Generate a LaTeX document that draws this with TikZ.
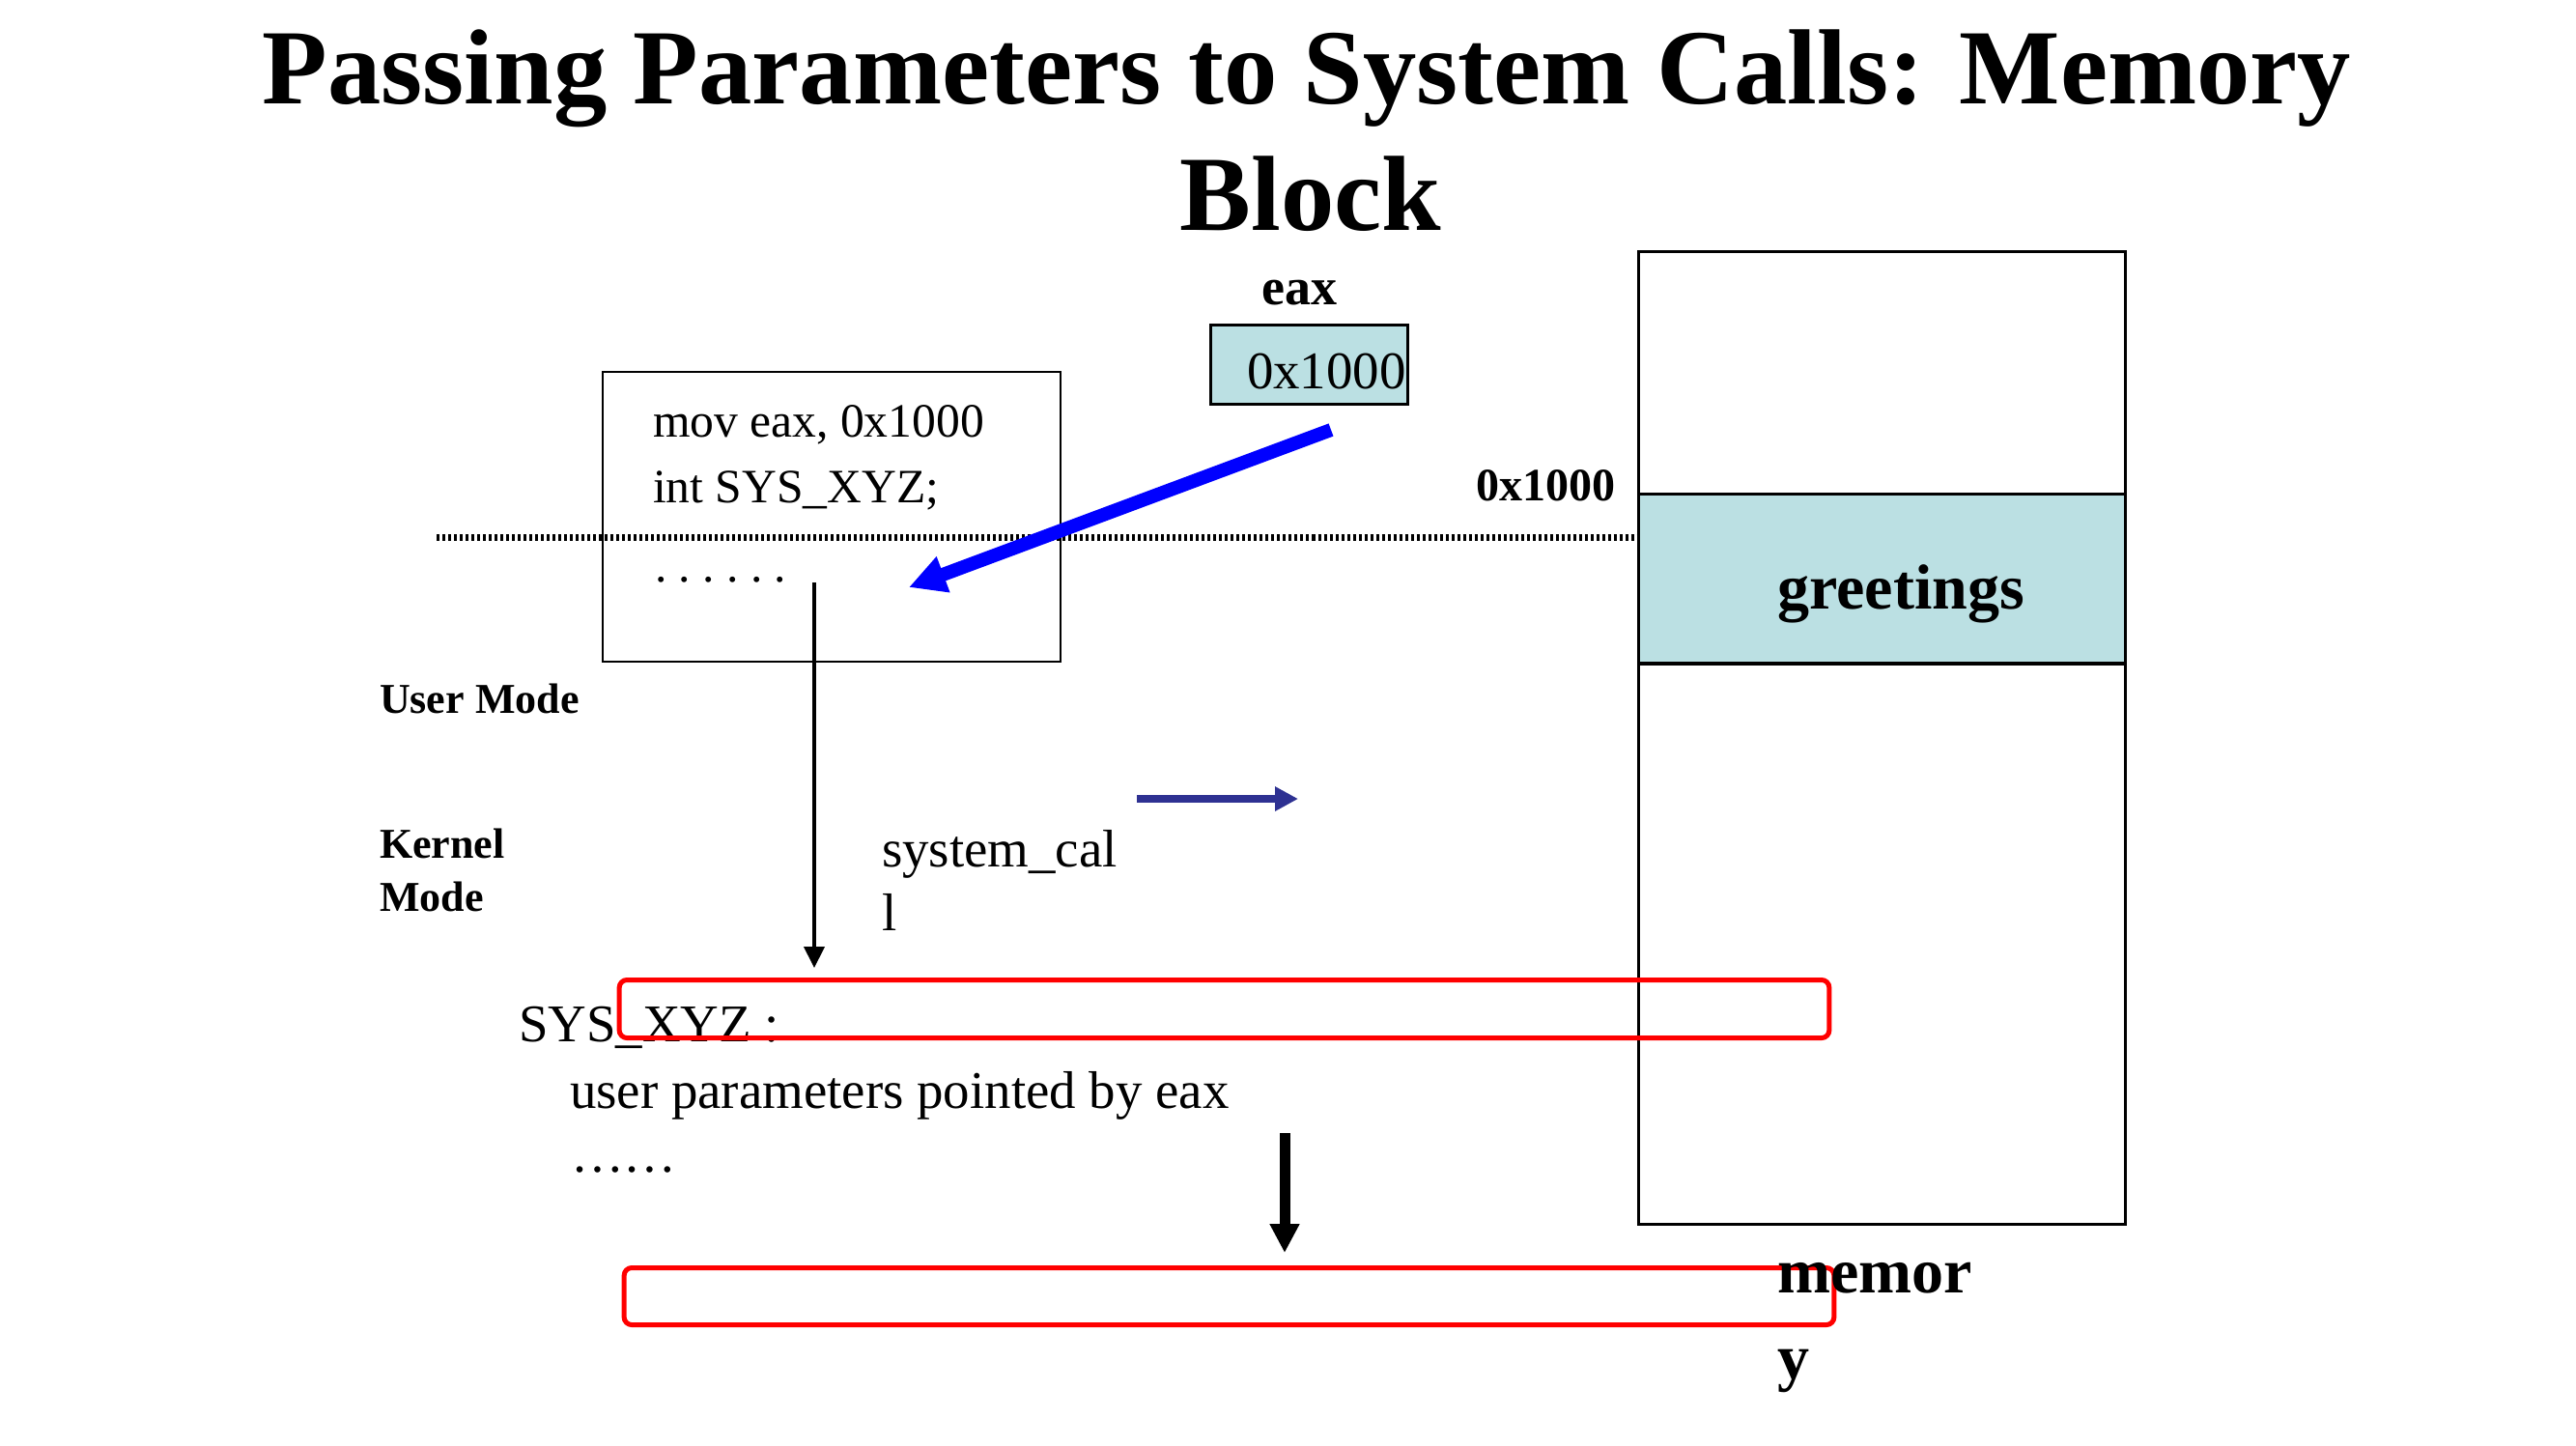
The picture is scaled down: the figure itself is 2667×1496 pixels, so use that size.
\documentclass[tikz,border=0pt]{standalone}
\usepackage{fontspec}
\setmainfont{Liberation Serif}
\usetikzlibrary{arrows.meta}
\definecolor{lblue}{HTML}{BBE0E3}
\definecolor{navyarrow}{HTML}{2E3192}
\begin{document}
\begin{tikzpicture}[x=0.01cm,y=-0.01cm,
  txt/.style={inner sep=0pt, outer sep=0pt, anchor=base west},
  ctxt/.style={inner sep=0pt, outer sep=0pt, anchor=base},
  boxline/.style={draw=black, line width=0.03cm, inner sep=0pt, outer sep=0pt},
  redbox/.style={draw=red, line width=0.05cm, rounded corners=0.08cm, inner sep=0pt, minimum width=12.52cm},
  titlefont/.style={font=\fontsize{31.45}{37.3}\selectfont\bfseries},
  codefont/.style={font=\fontsize{14.1}{19.3}\selectfont\frenchspacing},
  bodyfont/.style={font=\fontsize{15.6}{18.8}\selectfont},
  modefont/.style={font=\fontsize{12.52}{15.6}\selectfont\bfseries}]
\useasboundingbox (0,0) rectangle (2667,1496);
\fill[white] (0,0) rectangle (2667,1496);

% title
\node[ctxt, titlefont] (title1) at (1353,107) {Passing Parameters to System Calls: Memory};
\node[ctxt, titlefont] (title2) at (1357,238) {Block};

% memory column
\node[boxline, minimum width=5.03cm, minimum height=2.51cm] (memtop) at (1948.5,386.5) {};
\node[boxline, fill=lblue, minimum width=5.03cm, minimum height=1.75cm] (greet) at (1948.5,599.5) {};
\node[boxline, minimum width=5.03cm, minimum height=5.80cm] (membot) at (1948.5,977) {};
\node[ctxt, font=\fontsize{18.78}{22}\selectfont\bfseries] (greettxt) at (1968,630) {greetings};
\node[txt, font=\fontsize{13.66}{16}\selectfont\bfseries] (addr) at (1528,518) {0x1000};

% code box
\node[draw=black, line width=0.025cm, inner sep=0pt, minimum width=4.74cm, minimum height=3.0cm] (code) at (861,535) {};
\node[txt, codefont] (code1) at (676,452) {mov eax, 0x1000};
\node[txt, codefont] (code2) at (676,520) {int SYS\_XYZ;};
\node[txt, codefont] (code3) at (678,602) {. . . . . .};

% dotted separator
\coordinate (dotL) at (452,556);
\draw[line width=0.07cm, dash pattern=on 0.03cm off 0.03cm] (dotL) -- (dotL -| greet.west);

% eax register
\node[ctxt, font=\fontsize{15.36}{18}\selectfont\bfseries] (eaxlbl) at (1345,315) {eax};
\node[boxline, fill=lblue, minimum width=2.03cm, minimum height=0.81cm] (eaxbox) at (1355.5,377.5) {};
\node[txt, bodyfont] (eaxval) at (1291,402) {0x1000};

% mode labels
\node[txt, modefont] (user) at (393,738) {User Mode};
\node[txt, modefont] (kern1) at (393,888) {Kernel};
\node[txt, modefont] (kern2) at (393,943) {Mode};

% system_call text
\node[txt, bodyfont] (sc1) at (913,897) {system\_cal};
\node[txt, bodyfont] (sc2) at (913,963) {l};

% kernel code text
\node[txt, bodyfont] (sys) at (537,1078) {SYS\_XYZ :};
\node[txt, bodyfont] (upar) at (590,1147) {user parameters pointed by eax};
\node[txt, bodyfont] (kdots) at (591,1213) {……};

% arrows
\coordinate (bS) at (1378,445);
\coordinate (bE) at (941,608);
\draw[blue, line width=0.14cm, -{Triangle[length=0.38cm,width=0.37cm]}] (bS) -- (bE);

\coordinate (d1S) at (843,603);
\coordinate (d1E) at (843,1002);
\draw[black, line width=0.04cm, -{Triangle[length=0.22cm,width=0.21cm]}] (d1S) -- (d1E);

\coordinate (nS) at (1177,827);
\coordinate (nE) at (1344,827);
\draw[navyarrow, line width=0.08cm, -{Triangle[length=0.24cm,width=0.24cm]}] (nS) -- (nE);

\coordinate (d2S) at (1330,1173);
\coordinate (d2E) at (1330,1297);
\draw[black, line width=0.11cm, -{Triangle[length=0.30cm,width=0.29cm]}] (d2S) -- (d2E);

% red boxes
\node[redbox, minimum height=0.60cm] (rr1) at (1267.5,1044.5) {};
\node[redbox, minimum height=0.59cm] (rr2) at (1272.5,1342) {};

% memory label
\node[txt, font=\fontsize{18.78}{26}\selectfont\bfseries] (mem1) at (1840,1338) {memor};
\node[txt, font=\fontsize{18.78}{26}\selectfont\bfseries] (mem2) at (1840,1427) {y};
\end{tikzpicture}
\end{document}
